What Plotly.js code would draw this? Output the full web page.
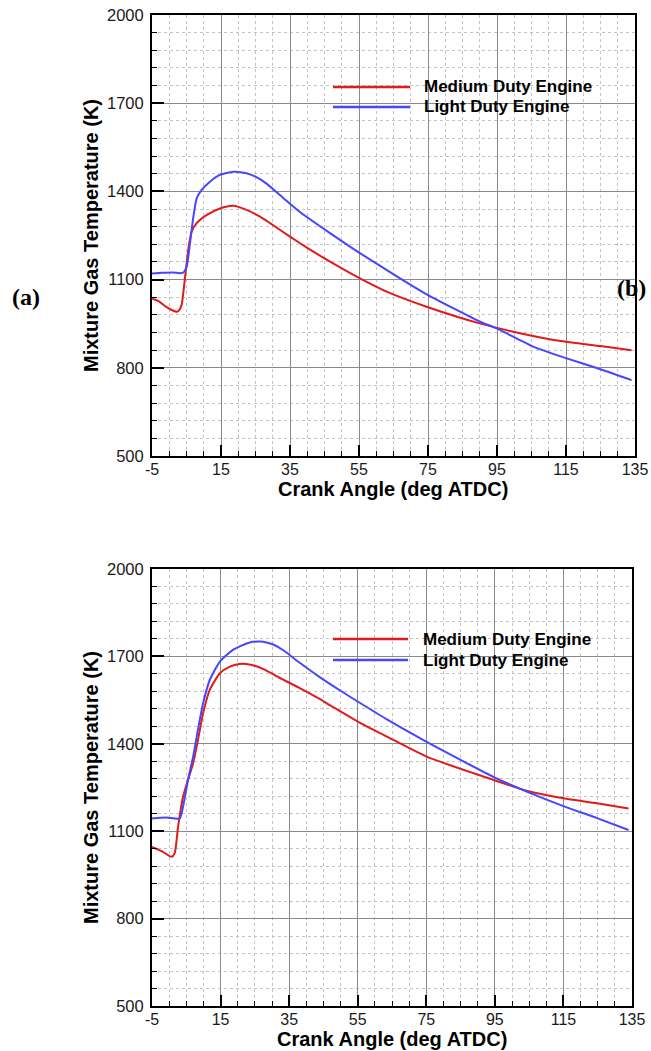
<!DOCTYPE html>
<html>
<head>
<meta charset="utf-8">
<script src="https://cdn.plot.ly/plotly-3.0.1.min.js"></script>
<style>html,body{margin:0;padding:0;background:#fff;}#chart{width:651px;height:1051px;}</style>
</head>
<body>
<div id="chart"></div>
<script>
// ---- Data ----
const seriesNames = ['Medium Duty Engine', 'Light Duty Engine'];
const panelLabels = ['(a)', '(b)'];
const xTitle = 'Crank Angle (deg ATDC)';
const yTitle = 'Mixture Gas Temperature (K)';

// Panel (a)
const aMediumX = [-5, -3, -1, 1, 2.2, 3, 3.6, 4.6, 5.5, 6.5, 7.95, 10.9, 14.7, 18.6, 22.4, 26.3, 29.2, 35, 40, 45, 50, 55, 63, 75, 90, 102, 113, 125, 134];
const aMediumY = [1036, 1026, 1008, 995, 991, 998, 1015, 1110, 1201, 1263, 1292, 1320, 1342, 1351, 1337, 1314, 1292, 1246, 1208, 1172, 1138, 1106, 1059, 1006, 951, 917, 892, 874, 860];
const aLightX = [-5, -2, 1, 3, 4.1, 5.05, 6, 7, 7.95, 9.4, 11.8, 14.7, 18.6, 22.4, 25, 28, 33.1, 37.9, 46.6, 55, 67.6, 74.6, 90.1, 94.9, 105.5, 115.2, 125, 134];
const aLightY = [1121, 1123, 1124, 1122, 1124, 1144, 1223, 1314, 1376, 1405, 1433, 1456, 1467, 1462, 1450, 1428, 1377, 1330, 1258, 1192, 1099, 1050, 957, 934, 872, 832, 795, 758];

// Panel (b)
const bMediumX = [-5, -1.8, 0.7, 1.6, 2.6, 4.05, 5.5, 7, 8.4, 9.9, 11.85, 14.8, 17.7, 20.6, 22.5, 25, 28, 31, 38.1, 44, 47, 55.7, 63.5, 75.1, 94.6, 104.3, 115, 124.8, 134];
const bMediumY = [1046, 1029, 1012, 1024, 1115, 1218, 1276, 1333, 1413, 1505, 1585, 1642, 1665, 1674, 1674, 1668, 1654, 1634, 1591, 1553, 1532, 1472, 1425, 1356, 1276, 1239, 1213, 1196, 1178];
const bLightX = [-5, -0.8, 3.1, 4.05, 5.5, 7, 8.4, 9.9, 11.85, 14.8, 18.7, 23.5, 26.5, 28.4, 30.5, 33.3, 38.1, 44, 50, 55.7, 63.5, 75.1, 85, 95, 104.3, 115, 124.8, 134];
const bLightY = [1144, 1147, 1144, 1184, 1276, 1356, 1448, 1539, 1619, 1682, 1723, 1748, 1751, 1748, 1740, 1721, 1678, 1628, 1582, 1540, 1484, 1407, 1345, 1284, 1236, 1186, 1145, 1104];

const xTickVals = [-5, 15, 35, 55, 75, 95, 115, 135];
const yTickVals = [500, 800, 1100, 1400, 1700, 2000];

// ---- Layout helpers ----
const W = 651, H = 1051;
const px = x => x / W;
const py = y => 1 - y / H;
const RED = '#e01b1b', BLUE = '#4646ff';
const SANS = 'Liberation Sans, Arial, sans-serif';

function xAxis(domain, anchor) {
  return {
    domain: domain, anchor: anchor,
    range: [-5, 135], tickmode: 'array', tickvals: xTickVals, ticktext: xTickVals.map(String),
    ticks: 'inside', ticklen: 11, tickwidth: 2, tickcolor: '#000',
    showline: true, linewidth: 2, linecolor: '#000', mirror: true,
    showgrid: true, gridcolor: '#8a8a8a', gridwidth: 1, zeroline: false,
    minor: {tick0: -5, dtick: 5, ticks: 'inside', ticklen: 5, tickwidth: 1, tickcolor: '#000',
            showgrid: true, gridcolor: '#c4c4c4', griddash: 'dot', gridwidth: 1},
    tickfont: {family: SANS, size: 16, color: '#1a1a1a'},
    ticklabelstandoff: -2,
    automargin: false, fixedrange: true
  };
}
function yAxis(domain, anchor) {
  return {
    domain: domain, anchor: anchor,
    range: [500, 2000], tickmode: 'array', tickvals: yTickVals, ticktext: yTickVals.map(String),
    ticks: 'inside', ticklen: 12, tickwidth: 2, tickcolor: '#000',
    showline: true, linewidth: 2, linecolor: '#000', mirror: true,
    showgrid: true, gridcolor: '#8a8a8a', gridwidth: 1, zeroline: false,
    minor: {tick0: 500, dtick: 60, ticks: 'inside', ticklen: 5, tickwidth: 1, tickcolor: '#000',
            showgrid: true, gridcolor: '#c4c4c4', griddash: 'dot', gridwidth: 1},
    tickfont: {family: SANS, size: 16.5, color: '#1a1a1a'},
    ticklabelstandoff: 3,
    title: {text: '<b>' + yTitle + '</b>', font: {family: SANS, size: 20, color: '#000'}, standoff: 3},
    automargin: false, fixedrange: true
  };
}

function trace(x, y, name, color, xa, ya) {
  return {x: x, y: y, name: name, type: 'scatter', mode: 'lines', xaxis: xa, yaxis: ya,
          line: {color: color, width: 2, shape: 'spline', smoothing: 0.6}, showlegend: false, hoverinfo: 'skip'};
}

const data = [
  trace(aMediumX, aMediumY, seriesNames[0], RED, 'x', 'y'),
  trace(aLightX, aLightY, seriesNames[1], BLUE, 'x', 'y'),
  trace(bMediumX, bMediumY, seriesNames[0], RED, 'x2', 'y2'),
  trace(bLightX, bLightY, seriesNames[1], BLUE, 'x2', 'y2')
];

function legendItems(x0, x1, xt, yRed, yBlue) {
  const shapes = [
    {type: 'line', xref: 'paper', yref: 'paper', x0: px(x0), x1: px(x1), y0: py(yRed), y1: py(yRed), line: {color: RED, width: 2.5}},
    {type: 'line', xref: 'paper', yref: 'paper', x0: px(x0), x1: px(x1), y0: py(yBlue), y1: py(yBlue), line: {color: BLUE, width: 2.5}}
  ];
  const anns = [
    {xref: 'paper', yref: 'paper', x: px(xt), y: py(yRed), xanchor: 'left', yanchor: 'middle', showarrow: false,
     text: '<b>' + seriesNames[0] + '</b>', font: {family: SANS, size: 17, color: '#000'}},
    {xref: 'paper', yref: 'paper', x: px(xt), y: py(yBlue), xanchor: 'left', yanchor: 'middle', showarrow: false,
     text: '<b>' + seriesNames[1] + '</b>', font: {family: SANS, size: 17, color: '#000'}}
  ];
  return {shapes, anns};
}
const legA = legendItems(333, 410, 422, 87, 107);
const legB = legendItems(333, 408, 421, 639, 660);

function xTitleAnn(cx, cy) {
  return {xref: 'paper', yref: 'paper', x: px(cx), y: py(cy), xanchor: 'center', yanchor: 'middle', showarrow: false,
          text: '<b>' + xTitle + '</b>', font: {family: SANS, size: 20, color: '#000'}};
}

const layout = {
  width: W, height: H,
  margin: {l: 0, r: 0, t: 0, b: 0},
  paper_bgcolor: '#fff', plot_bgcolor: '#fff',
  showlegend: false,
  xaxis: xAxis([px(152), px(635)], 'y'),
  yaxis: yAxis([py(456), py(15)], 'x'),
  xaxis2: xAxis([px(152), px(632)], 'y2'),
  yaxis2: yAxis([py(1006), py(569)], 'x2'),
  shapes: legA.shapes.concat(legB.shapes),
  annotations: legA.anns.concat(legB.anns).concat([
    xTitleAnn(393, 489),
    xTitleAnn(392, 1039),
    {xref: 'paper', yref: 'paper', x: px(26), y: py(297), xanchor: 'center', yanchor: 'middle', showarrow: false,
     text: '<b>' + panelLabels[0] + '</b>', font: {family: 'Liberation Serif, Times New Roman, serif', size: 24, color: '#000'}},
    {xref: 'paper', yref: 'paper', x: px(631), y: py(288), xanchor: 'center', yanchor: 'middle', showarrow: false,
     text: '<b>' + panelLabels[1] + '</b>', font: {family: 'Liberation Serif, Times New Roman, serif', size: 24, color: '#000'}}
  ])
};

Plotly.newPlot('chart', data, layout, {displayModeBar: false, staticPlot: true});
</script>
</body>
</html>
